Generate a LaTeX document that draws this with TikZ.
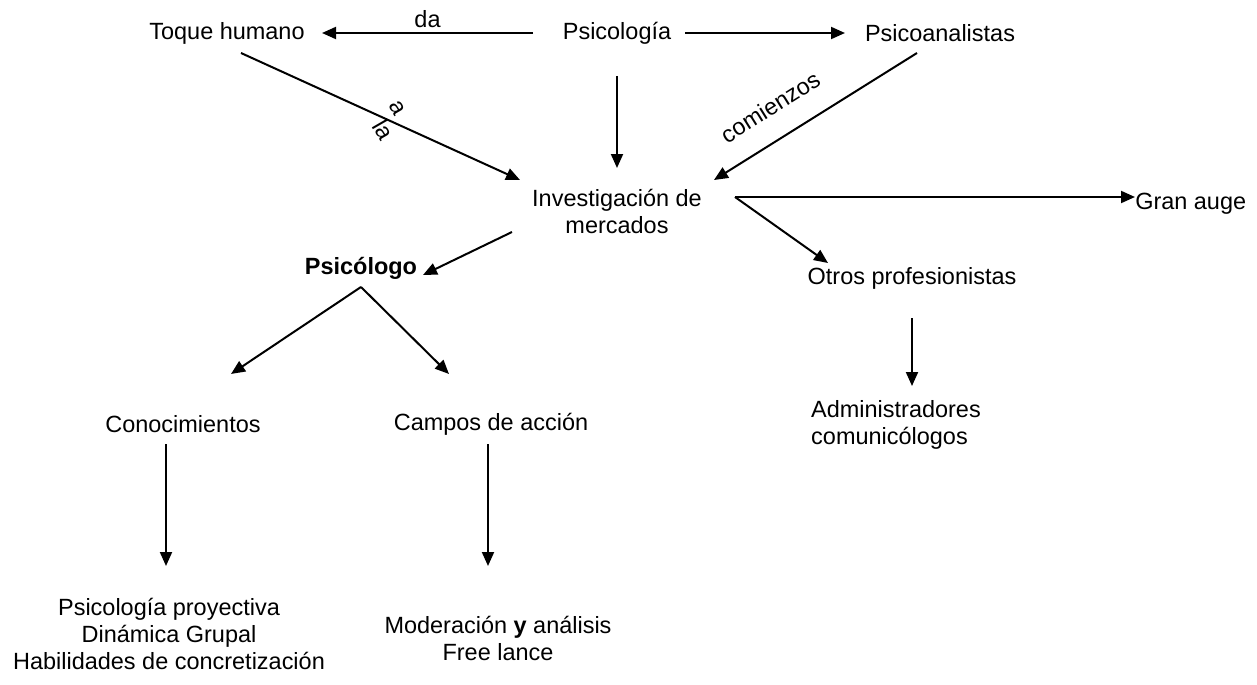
\documentclass[tikz,border=0pt]{standalone}
\usepackage{fontspec}
\setmainfont{Liberation Sans}
\usetikzlibrary{arrows.meta,calc}
\begin{document}
\begin{tikzpicture}[x=0.75pt,y=-0.75pt,
  lbl/.style={font=\fontsize{17.6}{20.25}\selectfont, inner sep=0pt, align=center},
  small/.style={font=\fontsize{17.6}{20.25}\selectfont, inner sep=0pt},
  arr/.style={line width=1.5pt, -{Triangle[length=10.5pt,width=9pt]}}]
\useasboundingbox (0,0) rectangle (1257,685);
% nodes
\node[lbl] (toque) at (227,33) {Toque humano};
\node[lbl] (psi) at (617,33) {Psicología};
\node[lbl] (psian) at (940,33) {Psicoanalistas};
\node[lbl] (inv) at (617,211) {Investigación de\\mercados};
\node[lbl, anchor=west] (gran) at (1135,204) {Gran auge};
\node[lbl, font=\fontsize{17.6}{20.25}\selectfont\bfseries] (psic) at (361,268) {Psicólogo};
\node[lbl] (otros) at (912,278) {Otros profesionistas};
\node[lbl, align=left] (admin) at (896,425) {Administradores\\comunicólogos};
\node[lbl] (cono) at (183,424) {Conocimientos};
\node[lbl] (campos) at (491,424) {Campos de acción};
\node[lbl] (habs) at (169,634) {Psicología proyectiva\\Dinámica Grupal\\Habilidades de concretización};
\node[lbl] (mod) at (498,638) {Moderación \textbf{y} análisis\\Free lance};
% helper coordinate at a shared connector end
\coordinate (invS) at ($(inv.center)+(118,-14)$);
% connectors
\draw[arr] ($(psi.center)+(-84,0)$) -- node[small, above=3pt] (da) {da} ($(toque.center)+(95,0)$);
\draw[arr] ($(psi.center)+(68,0)$) -- ($(psian.center)+(-95,0)$);
\draw[arr] ($(psi.center)+(0,43)$) -- ($(inv.center)+(0,-43)$);
\draw[arr] ($(toque.center)+(14,20)$) -- node[small, pos=0.56, yshift=12pt, rotate=-60] (a1) {a} node[small, pos=0.51, yshift=-9pt, rotate=-60] (a2) {la} ($(inv.center)+(-97,-31)$);
\draw[arr] ($(psian.center)+(-23,20)$) -- node[small, pos=0.64, xshift=-12.7pt, yshift=20.3pt, rotate=32] (com) {comienzos} ($(inv.center)+(97,-31)$);
\draw[arr] ($(inv.center)+(-105,21)$) -- ($(psic.center)+(62,7)$);
\draw[arr] (invS) -- (invS -| gran.west);
\draw[arr] (invS) -- ($(otros.center)+(-84,-15)$);
\draw[arr] ($(psic.center)+(0,19)$) -- ($(cono.center)+(48,-50)$);
\draw[arr] ($(psic.center)+(0,19)$) -- ($(campos.center)+(-42,-50)$);
\draw[arr] ($(otros.center)+(0,40)$) -- ($(otros.center)+(0,108)$);
\draw[arr] ($(cono.center)+(-17,20)$) -- ($(cono.center)+(-17,142)$);
\draw[arr] ($(campos.center)+(-3,20)$) -- ($(campos.center)+(-3,142)$);
\end{tikzpicture}
\end{document}
